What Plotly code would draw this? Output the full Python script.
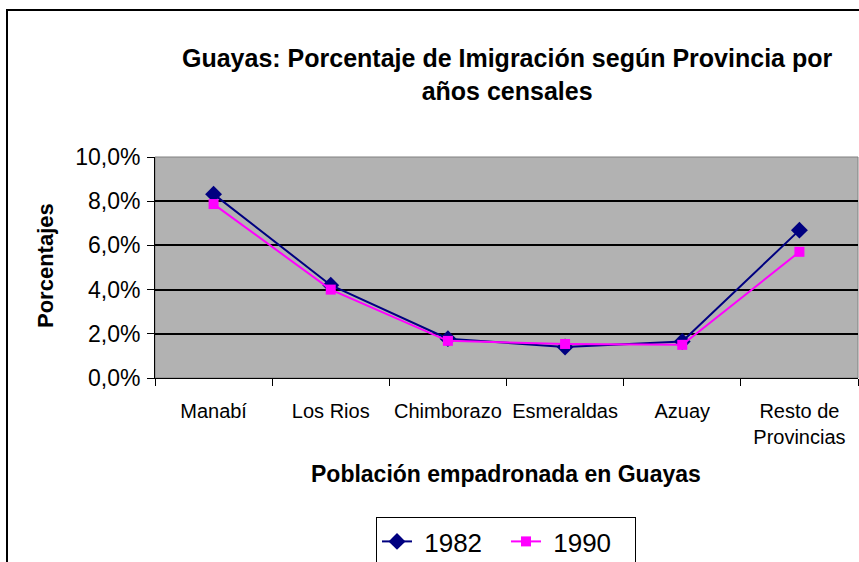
import plotly.graph_objects as go

categories = ["Manabí", "Los Rios", "Chimborazo", "Esmeraldas", "Azuay", "Resto de<br>Provincias"]
values_1982 = [0.0832, 0.0420, 0.0178, 0.0140, 0.0165, 0.0669]
values_1990 = [0.0787, 0.0400, 0.0168, 0.0154, 0.0150, 0.0571]
series_names = ["1982", "1990"]
y_ticks = [0, 0.02, 0.04, 0.06, 0.08, 0.10]

W, H = 859, 562
L, R, T, B = 155, 858, 157, 378
pw, ph = R - L, B - T

def px(x):
    return (x - L) / pw

def py(y):
    return (B - y) / ph

FONT = "Liberation Sans, Arial, sans-serif"
PAD = "\u00a0"

fig = go.Figure()
fig.add_trace(go.Scatter(
    x=categories, y=values_1982, name=PAD + series_names[0], mode="lines+markers",
    line=dict(color="#000080", width=2),
    marker=dict(symbol="diamond", size=13, color="#000080"),
))
fig.add_trace(go.Scatter(
    x=categories, y=values_1990, name=PAD + series_names[1], mode="lines+markers",
    line=dict(color="#FF00FF", width=2),
    marker=dict(symbol="square", size=10, color="#FF00FF"),
))

fig.update_layout(
    width=W, height=H,
    margin=dict(l=L, r=W - R, t=T, b=H - B, autoexpand=False),
    paper_bgcolor="white",
    plot_bgcolor="#B2B2B2",
    separators=",.",
    font=dict(family=FONT, color="black"),
    showlegend=True,
    legend=dict(
        orientation="h", xref="container", yref="container",
        x=506 / W, xanchor="center", y=1 - 517 / H, yanchor="top",
        bordercolor="black", borderwidth=1, bgcolor="white",
        font=dict(size=26, family=FONT), entrywidth=84, entrywidthmode="pixels",
    ),
    xaxis=dict(
        type="category", tickson="boundaries", ticks="outside", ticklen=7,
        tickcolor="black", showline=True, linecolor="black", linewidth=1,
        showgrid=False, tickfont=dict(size=20, family=FONT),
        range=[-0.5, 5.5], automargin=False, ticklabelstandoff=15,
    ),
    yaxis=dict(
        range=[0, 0.10], tickvals=y_ticks, tickformat=".1%",
        ticks="outside", ticklen=7, tickcolor="black",
        showline=True, linecolor="black", linewidth=1,
        showgrid=True, gridcolor="black", gridwidth=1.5,
        tickfont=dict(size=23, family=FONT), zeroline=False, automargin=False,
        ticklabelstandoff=2,
    ),
    annotations=[
        dict(text="<b>Guayas: Porcentaje de Imigración según Provincia por<br>años censales</b>",
             xref="paper", yref="paper", x=px(507), y=py(74), xanchor="center", yanchor="middle",
             showarrow=False, font=dict(size=25, family=FONT)),
        dict(text="<b>Porcentajes</b>", textangle=-90,
             xref="paper", yref="paper", x=px(45), y=py(265), xanchor="center", yanchor="middle",
             showarrow=False, font=dict(size=22, family=FONT)),
        dict(text="<b>Población empadronada en Guayas</b>",
             xref="paper", yref="paper", x=px(506), y=py(474), xanchor="center", yanchor="middle",
             showarrow=False, font=dict(size=23, family=FONT)),
    ],
    shapes=[
        dict(type="rect", xref="paper", yref="paper", x0=0, x1=1, y0=0, y1=1,
             line=dict(color="#808080", width=1), layer="below"),
        dict(type="rect", xref="paper", yref="paper", x0=px(7), x1=px(880), y0=py(10), y1=py(600),
             line=dict(color="black", width=2), fillcolor="rgba(0,0,0,0)"),
    ],
)

fig.write_html("out.html", config={"displayModeBar": False},
               post_script="document.body.style.margin='0';")
